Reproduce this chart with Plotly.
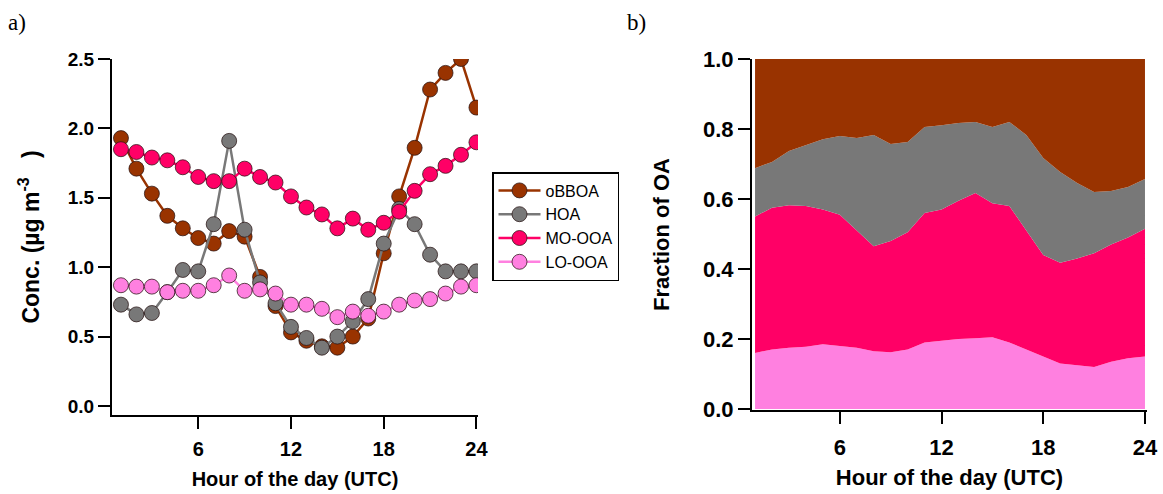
import plotly.graph_objects as go

hours = list(range(1, 25))

# Panel a) concentrations (ug m-3)
obboa = [1.93, 1.71, 1.53, 1.37, 1.28, 1.21, 1.17, 1.26, 1.22, 0.93, 0.72, 0.53, 0.47, 0.43, 0.42, 0.50, 0.63, 1.10, 1.51, 1.86, 2.28, 2.40, 2.50, 2.15]
hoa = [0.73, 0.66, 0.67, 0.82, 0.98, 0.97, 1.31, 1.91, 1.27, 0.89, 0.74, 0.57, 0.49, 0.42, 0.50, 0.61, 0.77, 1.17, 1.42, 1.31, 1.09, 0.97, 0.97, 0.97]
moooa = [1.85, 1.83, 1.79, 1.77, 1.72, 1.65, 1.62, 1.62, 1.71, 1.65, 1.61, 1.51, 1.43, 1.38, 1.28, 1.35, 1.27, 1.32, 1.40, 1.55, 1.67, 1.73, 1.81, 1.90]
loooa = [0.87, 0.86, 0.86, 0.82, 0.83, 0.83, 0.87, 0.94, 0.83, 0.84, 0.81, 0.73, 0.73, 0.70, 0.64, 0.68, 0.65, 0.68, 0.73, 0.76, 0.77, 0.81, 0.86, 0.87]

# Panel b) fractions of OA
f_loooa = [0.160, 0.170, 0.175, 0.178, 0.185, 0.180, 0.175, 0.165, 0.162, 0.170, 0.190, 0.195, 0.200, 0.202, 0.205, 0.190, 0.170, 0.150, 0.130, 0.125, 0.120, 0.135, 0.145, 0.150]
f_moooa = [0.390, 0.405, 0.407, 0.402, 0.385, 0.375, 0.335, 0.300, 0.318, 0.335, 0.370, 0.375, 0.395, 0.415, 0.383, 0.390, 0.340, 0.290, 0.288, 0.305, 0.325, 0.335, 0.345, 0.365]
f_hoa = [0.138, 0.131, 0.155, 0.174, 0.201, 0.225, 0.264, 0.318, 0.277, 0.258, 0.246, 0.241, 0.222, 0.203, 0.218, 0.240, 0.273, 0.277, 0.259, 0.216, 0.175, 0.153, 0.144, 0.142]
f_obboa = [0.312, 0.294, 0.263, 0.246, 0.229, 0.220, 0.226, 0.217, 0.243, 0.237, 0.194, 0.189, 0.183, 0.180, 0.194, 0.180, 0.217, 0.283, 0.323, 0.354, 0.380, 0.377, 0.366, 0.343]

x_ticks = [6, 12, 18, 24]
left_y_ticks = [0.0, 0.5, 1.0, 1.5, 2.0, 2.5]
right_y_ticks = [0.0, 0.2, 0.4, 0.6, 0.8, 1.0]

C_OBBOA = "#993300"
C_HOA = "#787878"
C_MO = "#ff0066"
C_LO = "#ff80e0"

FONT = "Liberation Sans"

fig = go.Figure()

line_series = [
    ("oBBOA", obboa, C_OBBOA, 1),
    ("HOA", hoa, C_HOA, 2),
    ("LO-OOA", loooa, C_LO, 4),
    ("MO-OOA", moooa, C_MO, 3),
]
for name, vals, col, rank in line_series:
    fig.add_trace(go.Scatter(
        x=hours, y=vals, name=name, mode="lines+markers",
        line=dict(color=col, width=2.5),
        marker=dict(size=15, color=col, line=dict(color="rgba(40,20,20,0.75)", width=1)),
        legendrank=rank, xaxis="x", yaxis="y",
    ))

area_series = [
    ("LO-OOA", f_loooa, C_LO),
    ("MO-OOA", f_moooa, C_MO),
    ("HOA", f_hoa, C_HOA),
    ("oBBOA", f_obboa, C_OBBOA),
]
for name, vals, col in area_series:
    fig.add_trace(go.Scatter(
        x=hours, y=vals, name=name, mode="lines", stackgroup="frac",
        line=dict(width=0, color=col), fillcolor=col, showlegend=False,
        xaxis="x2", yaxis="y2",
    ))

W, H = 1163, 494

def px(xp):
    return xp / W

def py(yp):
    return (H - yp) / H

axis_common = dict(
    showline=True, linecolor="black", linewidth=2, mirror=False,
    ticks="outside", ticklen=12, tickwidth=2, tickcolor="black",
    showgrid=False, zeroline=False, automargin=False,
)

NB = "\u00a0"

fig.update_layout(
    width=W, height=H,
    margin=dict(l=0, r=0, t=0, b=0, autoexpand=False),
    paper_bgcolor="white", plot_bgcolor="white",
    font=dict(family=FONT, color="black"),
    xaxis=dict(
        domain=[px(112), px(478)], range=[0.42, 24.1],
        tickvals=x_ticks, ticktext=[str(v) for v in x_ticks],
        tickfont=dict(size=20, weight="bold"), ticklabelstandoff=3,
        title=dict(text="Hour of the day (UTC)", font=dict(size=20, weight="bold"), standoff=13),
        anchor="y", **axis_common,
    ),
    yaxis=dict(
        domain=[py(415), py(59)], range=[-0.065, 2.5],
        tickvals=left_y_ticks, ticktext=[f"{v:.1f}" for v in left_y_ticks],
        tickfont=dict(size=19, weight="bold"),
        title=dict(text=f"Conc.{NB}(µg{NB}m<sup>-3</sup>{NB}{NB}{NB})", font=dict(size=23, weight="bold"), standoff=22),
        anchor="x", **axis_common,
    ),
    xaxis2=dict(
        domain=[px(752), px(1147)], range=[0.82, 24.12],
        tickvals=x_ticks, ticktext=[str(v) for v in x_ticks],
        tickfont=dict(size=22, weight="bold"), ticklabelstandoff=5,
        title=dict(text="Hour of the day (UTC)", font=dict(size=22, weight="bold"), standoff=10),
        anchor="y2", **axis_common,
    ),
    yaxis2=dict(
        domain=[py(410), py(59)], range=[-0.003, 1.0],
        tickvals=right_y_ticks, ticktext=[f"{v:.1f}" for v in right_y_ticks],
        tickfont=dict(size=22, weight="bold"),
        title=dict(text="Fraction of OA", font=dict(size=22, weight="bold"), standoff=27),
        anchor="x2", **axis_common,
    ),
    legend=dict(
        x=px(492), y=py(172), xanchor="left", yanchor="top",
        bordercolor="black", borderwidth=1.5, bgcolor="white",
        font=dict(size=16, family=FONT), tracegroupgap=0, traceorder="normal",
        itemwidth=42,
    ),
    showlegend=True,
    annotations=[
        dict(text="a)", x=px(6), y=py(8), xref="paper", yref="paper",
             xanchor="left", yanchor="top", showarrow=False,
             font=dict(family="Liberation Serif", size=23)),
        dict(text="b)", x=px(625), y=py(8), xref="paper", yref="paper",
             xanchor="left", yanchor="top", showarrow=False,
             font=dict(family="Liberation Serif", size=23)),
    ],
)

fig.write_html("out.html")
